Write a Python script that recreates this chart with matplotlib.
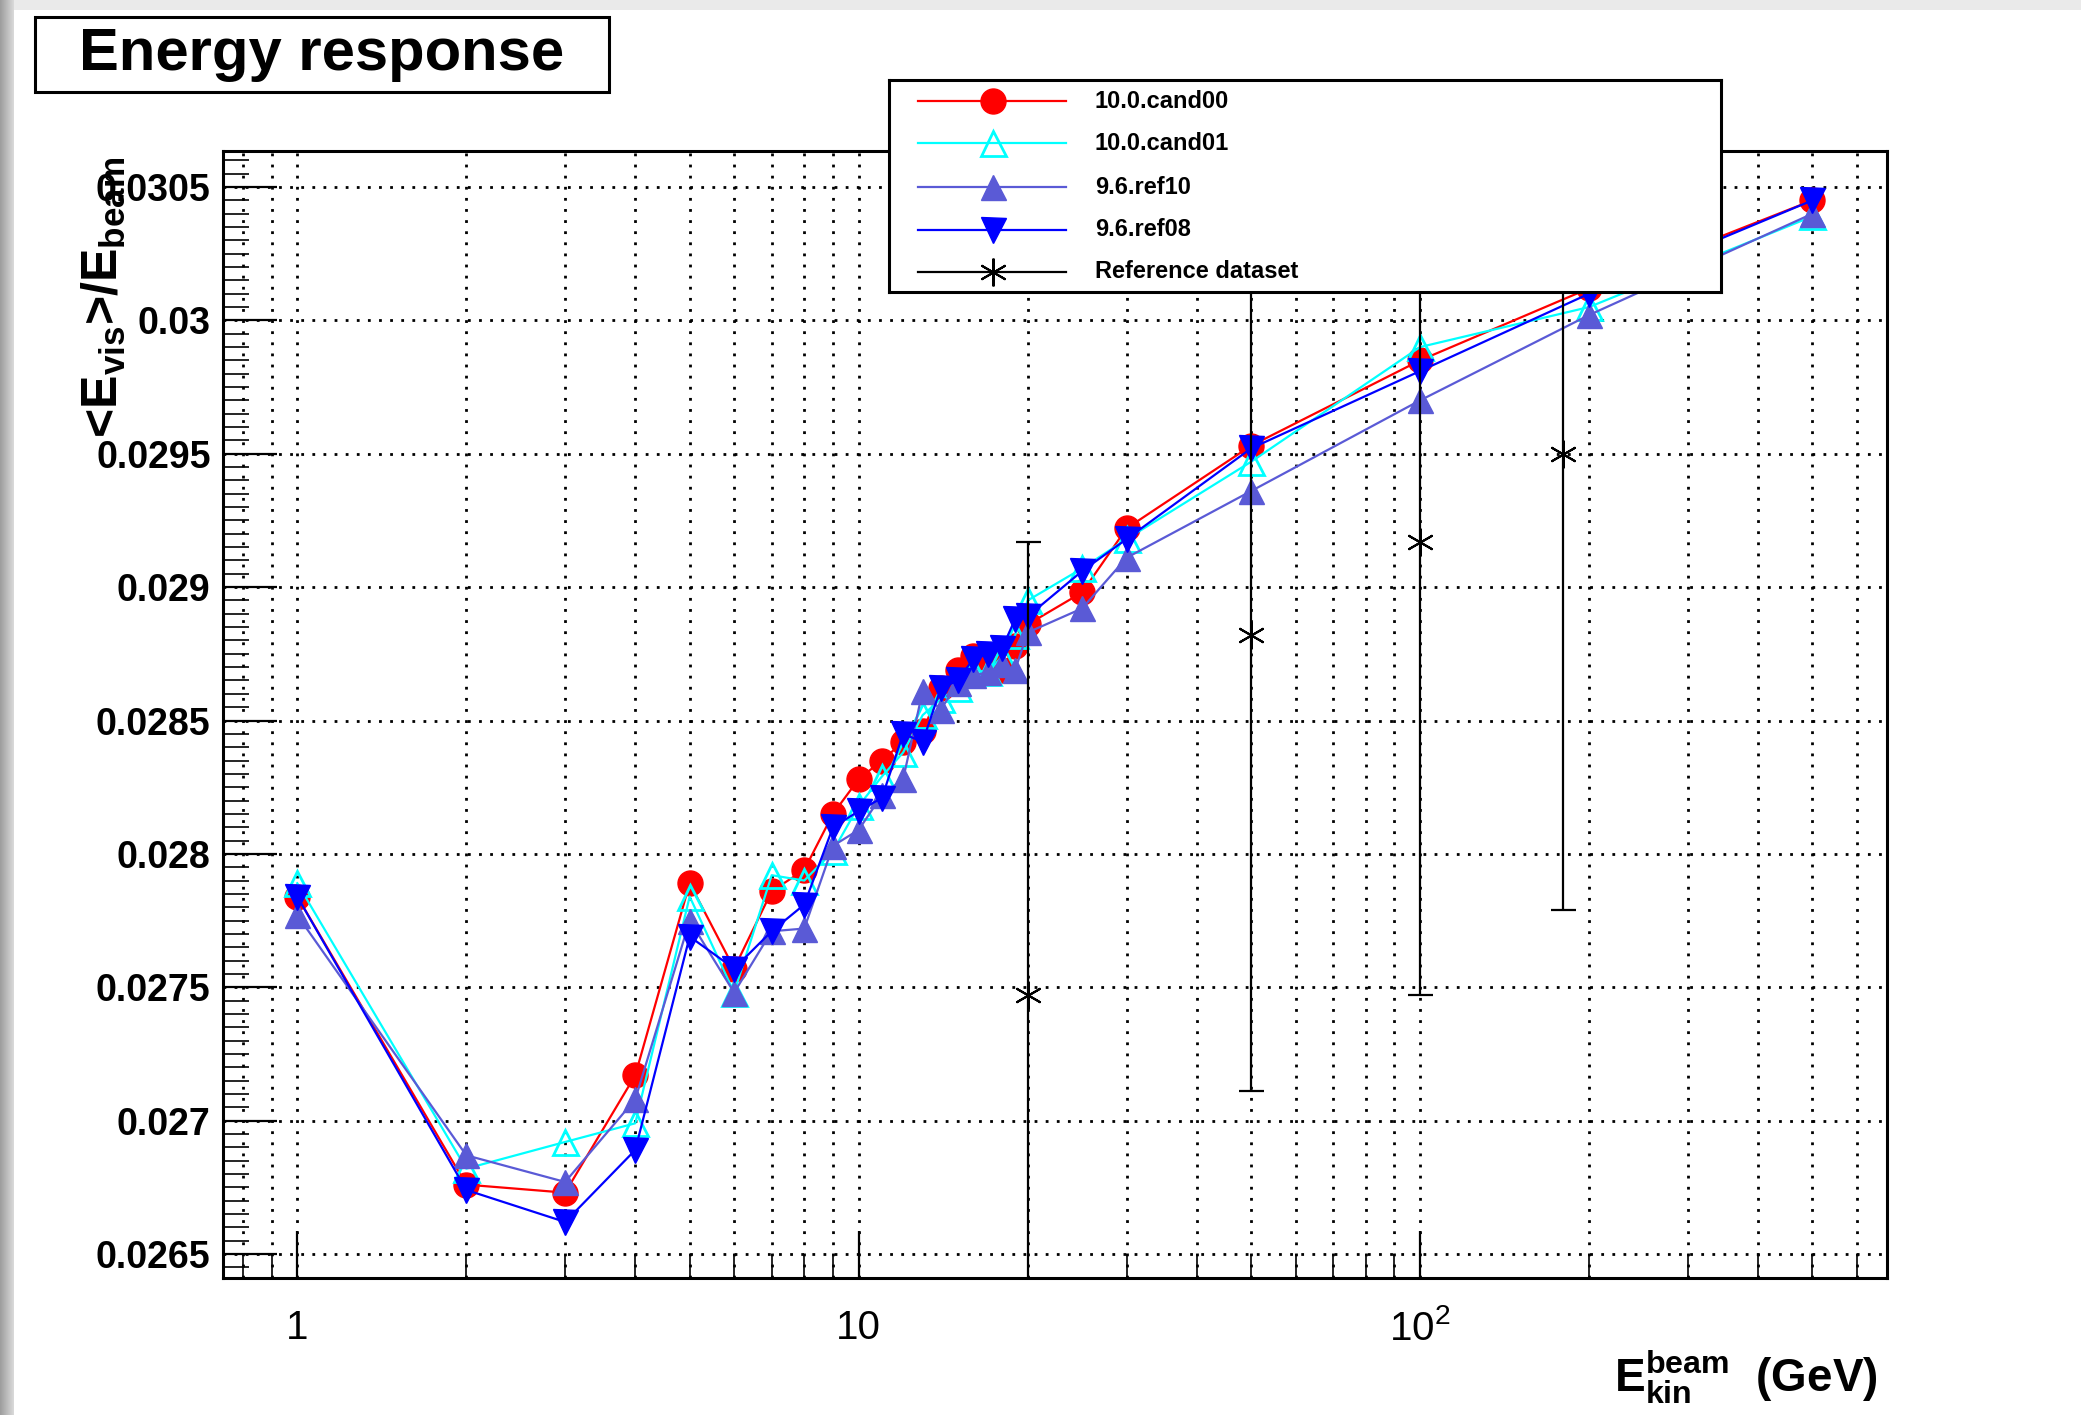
"""Energy response vs beam kinetic energy -- ROOT-style comparison of four releases
against the reference dataset (log x axis, error bars on the reference only)."""

import matplotlib
matplotlib.use("Agg")
import matplotlib.pyplot as plt
import numpy as np
from matplotlib.patches import Rectangle
from matplotlib.ticker import FixedLocator, FixedFormatter, NullFormatter

plt.rcParams["font.family"] = ["Liberation Sans", "DejaVu Sans"]
plt.rcParams["mathtext.fontset"] = "custom"
plt.rcParams["mathtext.rm"] = "Liberation Sans"
plt.rcParams["mathtext.bf"] = "Liberation Sans:bold"
plt.rcParams["mathtext.it"] = "Liberation Sans:italic"

# beam energies (GeV)
energy = [1, 2, 3, 4, 5, 6, 7, 8, 9, 10, 11, 12, 13, 14, 15, 16, 17, 18, 19, 20,
          25, 30, 50, 100, 200, 500]

cand00 = [0.02784, 0.02676, 0.02673, 0.02717, 0.02789, 0.02757, 0.02786, 0.02794,
          0.02815, 0.02828, 0.02835, 0.02842, 0.02846, 0.02862, 0.02869, 0.02874,
          0.02873, 0.02869, 0.02878, 0.02886, 0.02898, 0.02922, 0.02953, 0.02985,
          0.03012, 0.03045]
cand01 = [0.02789, 0.02682, 0.02692, 0.02699, 0.02784, 0.02748, 0.02792, 0.02790,
          0.02801, 0.02818, 0.02829, 0.02838, 0.02852, 0.02858, 0.02862, 0.02869,
          0.02868, 0.02874, 0.02882, 0.02895, 0.02907, 0.02918, 0.02947, 0.02990,
          0.03005, 0.03039]
ref10 = [0.02777, 0.02687, 0.02677, 0.02708, 0.02775, 0.02748, 0.02771, 0.02772,
         0.02803, 0.02809, 0.02822, 0.02828, 0.02861, 0.02854, 0.02864, 0.02867,
         0.02868, 0.02871, 0.02869, 0.02883, 0.02892, 0.02911, 0.02936, 0.02970,
         0.03002, 0.03040]
ref08 = [0.02784, 0.02674, 0.02662, 0.02689, 0.02769, 0.02757, 0.02771, 0.02781,
         0.02810, 0.02816, 0.02821, 0.02845, 0.02842, 0.02862, 0.02865, 0.02873,
         0.02875, 0.02877, 0.02888, 0.02889, 0.02906, 0.02918, 0.02952, 0.02981,
         0.03010, 0.03045]

ref_energy = [20, 50, 100, 180]
ref_value = [0.02747, 0.02882, 0.02917, 0.02950]
ref_error = [0.00170, 0.00171, 0.00170, 0.00171]

series_names = ["10.0.cand00", "10.0.cand01", "9.6.ref10", "9.6.ref08"]
ref_name = "Reference dataset"
ytick_vals = [0.0265, 0.027, 0.0275, 0.028, 0.0285, 0.029, 0.0295, 0.03, 0.0305]
ytick_text = ["0.0265", "0.027", "0.0275", "0.028", "0.0285", "0.029", "0.0295",
              "0.03", "0.0305"]

W, H = 2081, 1415
fig = plt.figure(figsize=(W / 100, H / 100), dpi=100)

# screenshot shadow along the left/top edges
bg = fig.add_axes([0, 0, 1, 1], zorder=-10)
bg.axis("off")
img = np.ones((H, W, 3))
img[:10, :, :] = 0.92
img[:, :14, :] = np.linspace(0.62, 0.85, 14)[None, :, None]
bg.imshow(img, extent=(0, W, H, 0), aspect="auto", interpolation="nearest")

ax = fig.add_axes([223 / W, 1 - 1278 / H, (1887 - 223) / W, (1278 - 151) / H])
ax.set_xscale("log")
ax.set_xlim(0.7374, 678.8)
ax.set_ylim(0.02641, 0.030635)

styles = [
    dict(color="#ff0000", marker="o", mfc="#ff0000", mec="#ff0000", ms=18),
    dict(color="#00ffff", marker="^", mfc="none", mec="#00ffff", ms=18, mew=2),
    dict(color="#5a5ad6", marker="^", mfc="#5a5ad6", mec="#5a5ad6", ms=18),
    dict(color="#0000ff", marker="v", mfc="#0000ff", mec="#0000ff", ms=18),
]
for name, vals, st in zip(series_names, [cand00, cand01, ref10, ref08], styles):
    ax.plot(energy, vals, lw=1.6, label=name, zorder=3, **st)

star = (6, 2, 0)
ref_style = dict(color="black", marker=star, ms=20, mew=1.5)
ax.errorbar(ref_energy, ref_value, yerr=ref_error, fmt="none", ecolor="black",
            elinewidth=1.6, capsize=9, capthick=1.6, zorder=4)
ax.plot(ref_energy, ref_value, ls="none", zorder=5, **ref_style)

# axes, ticks, grid -- ROOT look
for sp in ax.spines.values():
    sp.set_linewidth(2.2)
ax.yaxis.set_major_locator(FixedLocator(ytick_vals))
ax.yaxis.set_major_formatter(FixedFormatter(ytick_text))
ax.yaxis.set_minor_locator(FixedLocator(np.arange(0.0264, 0.03065, 0.00005)))
ax.xaxis.set_major_locator(FixedLocator([1, 10, 100]))
ax.xaxis.set_major_formatter(FixedFormatter(["1", "10", r"$\mathregular{10^{2}}$"]))
xminor = [0.8, 0.9] + [m * 10 ** k for k in range(3) for m in range(2, 10)
                       if m * 10 ** k < 679]
ax.xaxis.set_minor_locator(FixedLocator(xminor))
ax.xaxis.set_minor_formatter(NullFormatter())
ax.tick_params(axis="y", which="major", direction="in", length=39, width=1.6,
               labelsize=27, pad=9, right=False)
ax.tick_params(axis="y", which="minor", direction="in", length=19, width=1.2,
               right=False)
ax.tick_params(axis="x", which="major", direction="in", length=34, width=1.6,
               labelsize=29, pad=22, top=False)
ax.tick_params(axis="x", which="minor", direction="in", length=17, width=1.2,
               top=False)
for lab in ax.get_yticklabels():
    lab.set_fontweight("bold")

dots = (0, (1, 3))
ax.grid(True, axis="y", which="major", color="black", lw=2.0, ls=dots, zorder=1)
ax.grid(True, axis="x", which="both", color="black", lw=2.0, ls=dots, zorder=1)
ax.set_axisbelow(True)

# legend box, laid out in pixel units like the ROOT TLegend
lax = fig.add_axes([889 / W, 1 - 292 / H, 832 / W, 212 / H], zorder=10)
lax.set_xlim(0, 832)
lax.set_ylim(212, 0)
lax.set_xticks([])
lax.set_yticks([])
for sp in lax.spines.values():
    sp.set_linewidth(2.2)
rows = [21, 63, 107, 150, 192]
for row, name, st in zip(rows, series_names, styles):
    lax.plot([29, 177], [row, row], lw=1.6, color=st["color"])
    lax.plot([104], [row], ls="none", **st)
    lax.text(206, row, name, va="center", ha="left", fontsize=17, fontweight="bold")
lax.plot([29, 177], [rows[4], rows[4]], lw=1.6, color="black")
lax.plot([104], [rows[4]], ls="none", **ref_style)
lax.text(206, rows[4], ref_name, va="center", ha="left", fontsize=17,
         fontweight="bold")

# title box
fig.patches.append(Rectangle((35 / W, 1 - 92 / H), 574 / W, 75 / H,
                             transform=fig.transFigure, fill=True, fc="white",
                             ec="black", lw=2.2))
fig.text(322 / W, 1 - 54 / H, "Energy response", ha="center", va="center",
         fontsize=43, fontweight="bold")

fig.text(104 / W, 1 - 157 / H, r"<E$_\mathbf{vis}$>/E$_\mathbf{beam}$", rotation=90,
         ha="center", va="top", fontsize=36, fontweight="bold")
fig.text(1878 / W, 1 - 1391 / H, r"$\mathbf{E^{beam}_{kin}}$  (GeV)", ha="right",
         va="baseline", fontsize=33, fontweight="bold")

fig.savefig("out.png", dpi=100)
